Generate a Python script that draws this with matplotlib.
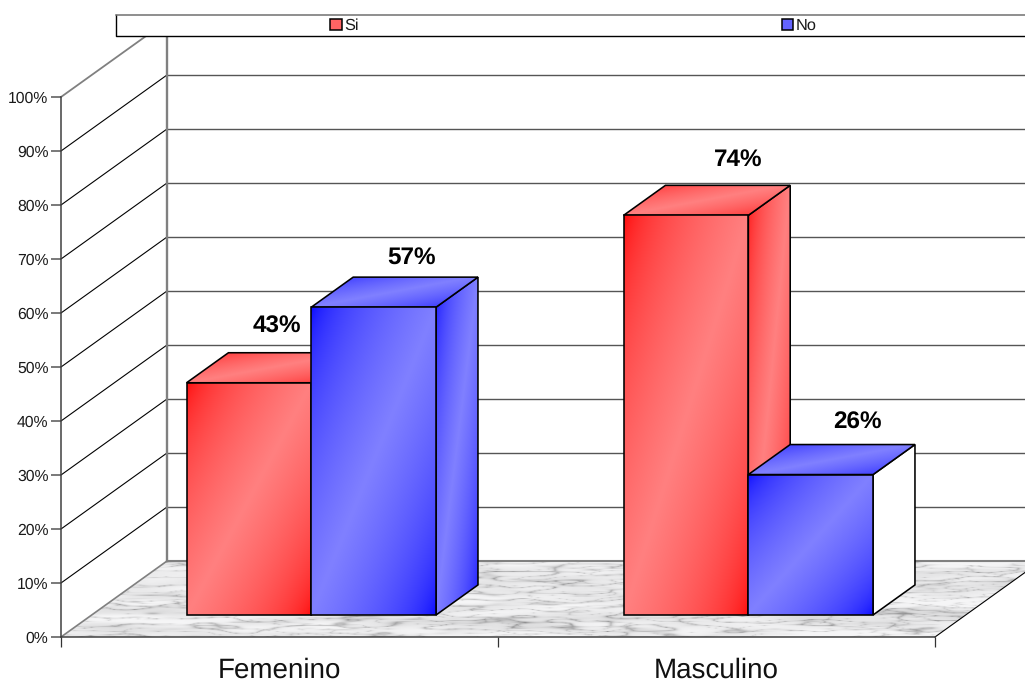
import numpy as np
import matplotlib
matplotlib.use("Agg")
import matplotlib.pyplot as plt
from matplotlib.patches import Polygon, Patch, Rectangle

categories = ["Femenino", "Masculino"]
series_names = ["Si", "No"]
si_values = [43, 74]
no_values = [57, 26]
tick_values = [0, 10, 20, 30, 40, 50, 60, 70, 80, 90, 100]
tick_labels = ["0%", "10%", "20%", "30%", "40%", "50%", "60%", "70%", "80%", "90%", "100%"]

# Offsets of each value label from the front-top centre of its bar, in pixels
label_shift_si = [(28, 56), (52, 56)]
label_shift_no = [(38, 50), (47, 52)]

W, H = 1025, 683
plt.rcParams["font.family"] = ["Liberation Sans", "DejaVu Sans"]
plt.rcParams["text.hinting"] = "none"

fig = plt.figure(figsize=(W / 100, H / 100), dpi=100, facecolor="white")
ax = fig.add_axes([61 / W, (H - 637) / H, (935 - 61) / W, (637 - 97) / H])
ax.patch.set_visible(False)

# Oblique projection: depth 0 is the front plane, depth 1 the back wall
DX = 106 / 437
DY = 76 / 5.4
BAR_W = 0.2855
GROUP_START = 0.217
D_FRONT, D_BACK = 0.29, 0.685


def proj(x, v, d):
    return x + d * DX, v + d * DY


def wave_field(x, y, terms, seed_phase):
    # Sum of plane waves with wavenumbers spread by the golden ratio
    phi = 0.6180339887
    out = np.zeros_like(x)
    for k in range(1, terms + 1):
        a = (k * phi) % 1
        b = (k * phi * phi * 1.37 + 0.21) % 1
        kx = (a - 0.5) * 2 * (30 + 130 * k / terms)
        ky = 14 + 60 * b * (0.4 + k / terms)
        out += np.sin(kx * x + ky * y + seed_phase * k) / (1 + 0.12 * k)
    return out


def marble(nx, ny):
    # Ridged streaks, flattened horizontally like a receding floor
    x, y = np.meshgrid(np.linspace(0, 1, nx), np.linspace(0, 1, ny))
    veins_a = np.exp(-3.2 * np.abs(wave_field(x, y, 26, 1.1) + 0.3))
    veins_b = np.exp(-4.5 * np.abs(wave_field(x + 0.31, y * 1.4, 34, 2.7)))
    cloud = wave_field(x * 0.5, y * 0.5, 14, 0.6)
    g = 237 + 4 * cloud - 62 * veins_a - 38 * veins_b
    g = np.clip(g, 130, 245)
    return np.dstack([g, g, g + 1]).clip(0, 255).astype(np.uint8)


def gradient(dark, light, n=200):
    # Corner-to-corner shading: saturated corners, pale anti-diagonal band
    u, v = np.meshgrid(np.linspace(0, 1, n), np.linspace(0, 1, n))
    s = (1 - np.abs(u + v - 1)) ** 0.5
    dark, light = np.array(dark, float), np.array(light, float)
    return (dark + s[..., None] * (light - dark)) / 255


def clipped_image(data, pts, z, interp="bilinear"):
    xs, ys = zip(*pts)
    im = ax.imshow(data, extent=(min(xs), max(xs), min(ys), max(ys)), origin="upper",
                   aspect="auto", interpolation=interp, zorder=z)
    poly = Polygon(pts, closed=True, transform=ax.transData)
    im.set_clip_path(poly)
    im.set_clip_box(fig.bbox)
    return im


def face(pts, z, dark=None, light=None, fill=None):
    if fill is None:
        clipped_image(gradient(dark, light), pts, z)
    ax.add_patch(Polygon(pts, closed=True, facecolor=fill if fill else "none",
                         edgecolor="black", lw=1.15, joinstyle="miter",
                         clip_on=False, zorder=z + 0.01))


def bar3d(x, w, value, z, dark, light, side_fill=None):
    x0, x1 = x, x + w
    # Front face
    face([proj(x0, 0, D_FRONT), proj(x1, 0, D_FRONT), proj(x1, value, D_FRONT), proj(x0, value, D_FRONT)],
         z + 0.2, dark, light)
    # Right side face
    face([proj(x1, 0, D_FRONT), proj(x1, 0, D_BACK), proj(x1, value, D_BACK), proj(x1, value, D_FRONT)],
         z, dark, light, fill=side_fill)
    # Top face
    face([proj(x0, value, D_FRONT), proj(x1, value, D_FRONT), proj(x1, value, D_BACK), proj(x0, value, D_BACK)],
         z + 0.1, dark, light)


# Marble floor
floor = [proj(0, 0, 0), proj(2, 0, 0), proj(2, 0, 1), proj(0, 0, 1)]
clipped_image(marble(1100, 90), floor, 1)
ax.plot(*zip(proj(0, 0, 0), proj(0, 0, 1)), color="#808080", lw=1.2, clip_on=False, zorder=2)
ax.plot(*zip(proj(2, 0, 0), proj(2, 0, 1)), color="black", lw=0.8, clip_on=False, zorder=2)

# Back wall and left wall gridlines
for v in tick_values:
    is_edge = v in (0, 100)
    ax.plot(*zip(proj(0, v, 1), proj(2, v, 1)), color="#808080" if is_edge else "#555555",
            lw=1.5 if v == 0 else 1.0, clip_on=False, zorder=1.5)
    if v > 0:
        ax.plot(*zip(proj(0, v, 0), proj(0, v, 1)), color="#808080" if v == 100 else "black",
                lw=1.3 if v == 100 else 0.8, clip_on=False, zorder=1.5)
ax.plot(*zip(proj(0, 0, 1), proj(0, 100, 1)), color="#808080", lw=1.7, clip_on=False, zorder=1.6)

# Bars
RED = ((255, 0, 0), (255, 128, 128))
BLUE = ((0, 0, 255), (128, 128, 255))
white_side_no = [None, "white"]
for i, cat in enumerate(categories):
    x_si = i + GROUP_START
    x_no = x_si + BAR_W
    bar3d(x_si, BAR_W, si_values[i], 3 + i, *RED)
    bar3d(x_no, BAR_W, no_values[i], 3.5 + i, *BLUE, side_fill=white_side_no[i])
    for x, val, shift in ((x_si, si_values[i], label_shift_si[i]), (x_no, no_values[i], label_shift_no[i])):
        ax.annotate(f"{val}%", xy=proj(x + BAR_W / 2, val, D_FRONT), xytext=(shift[0] * 0.72, shift[1] * 0.72),
                    textcoords="offset points", ha="center", va="center", fontsize=17.5,
                    fontweight="bold", color="black", annotation_clip=False, zorder=8)

# Axes, ticks and category labels
ax.set_xlim(0, 2)
ax.set_ylim(0, 100)
for s in ("top", "right"):
    ax.spines[s].set_visible(False)
for s in ("left", "bottom"):
    ax.spines[s].set_color("#404040")
    ax.spines[s].set_linewidth(1.1)
    ax.spines[s].set_zorder(6)
ax.set_yticks(tick_values)
ax.set_yticklabels(tick_labels, fontsize=11.3, color="#1a1a1a")
ax.tick_params(axis="y", length=7, width=1.1, color="#555555", pad=2)
ax.set_xticks([0, 1, 2])
ax.set_xticklabels([])
ax.tick_params(axis="x", which="major", length=7, width=0.9, color="#333333")
ax.set_xticks([0.5, 1.5], minor=True)
ax.set_xticklabels(categories, minor=True, fontsize=20, color="#111111")
ax.tick_params(axis="x", which="minor", length=0, pad=15)

# Legend strip along the top, running off the right edge
fig.add_artist(Rectangle((116 / W, (H - 35.5) / H), 1000 / W, 21 / H, transform=fig.transFigure,
                         facecolor="white", edgecolor="none", zorder=9))
fig.add_artist(plt.Line2D([116 / W, 116 / W, 1], [(H - 14.5) / H, (H - 35.5) / H, (H - 35.5) / H],
                          color="black", lw=1.0, zorder=10))
fig.add_artist(plt.Line2D([116 / W, 1], [(H - 14.5) / H, (H - 14.5) / H], color="#707070", lw=1.1, zorder=10))
handles = [Patch(facecolor="#ff6464", edgecolor="black", lw=1.1, label=series_names[0]),
           Patch(facecolor="#6464ff", edgecolor="black", lw=1.1, label=series_names[1])]
leg = fig.legend(handles=handles, ncol=2, loc="center left", bbox_to_anchor=(330 / W, (H - 26) / H),
                 frameon=False, fontsize=11.8, borderpad=0, borderaxespad=0, handlelength=0.72,
                 handleheight=0.72, handletextpad=0.15, columnspacing=25.8, labelspacing=0)
leg.set_zorder(11)
for t in leg.get_texts():
    t.set_color("#1a1a1a")

fig.savefig("out.png", dpi=100, facecolor="white")
